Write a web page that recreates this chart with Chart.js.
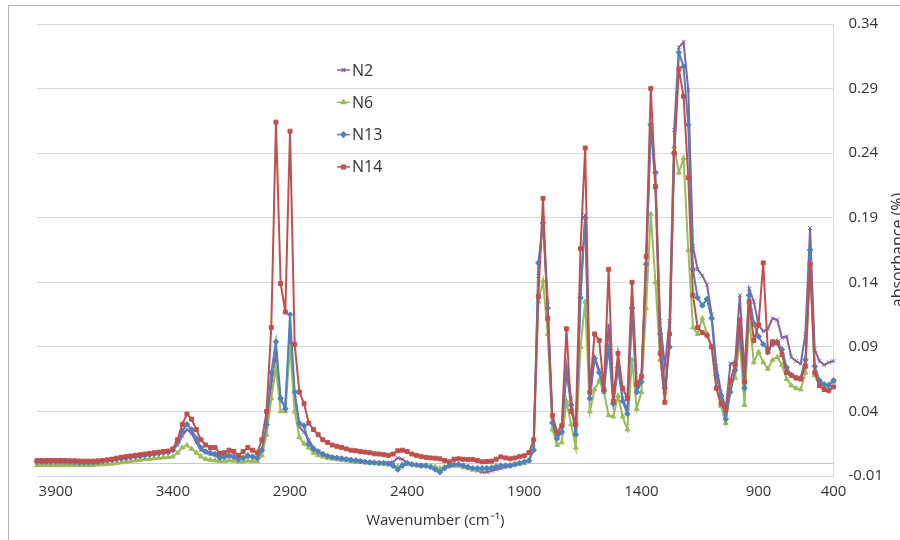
<!DOCTYPE html>
<html>
<head>
<meta charset="utf-8">
<script src="https://cdn.jsdelivr.net/npm/chart.js@4.4.1/dist/chart.umd.min.js"></script>
<style>
  html, body { margin: 0; padding: 0; background: #fff; }
  .wrap { position: relative; width: 900px; height: 540px; overflow: hidden; }
  .frame { position: absolute; left: 8px; top: 5px; width: 1000px; height: 1000px;
           border-left: 1px solid #b4b4b4; border-top: 1px solid #b4b4b4; }
  .chart-box { position: absolute; left: 0; top: 0; width: 900px; height: 540px; }
</style>
</head>
<body>
<div class="wrap">
  <div class="frame"></div>
  <div class="chart-box"><canvas class="chart"></canvas></div>
</div>
<script>
// wavenumber categories (evenly spaced on the axis, like the original sheet)
const wavenumbers = [
  3980,3960,3940,3920,3900,3880,3860,3840,3820,3800,
  3780,3760,3740,3720,3700,3680,3660,3640,3620,3600,
  3580,3560,3540,3520,3500,3480,3460,3440,3420,3400,
  3380,3360,3340,3320,3300,3280,3260,3240,3220,3200,
  3180,3160,3140,3120,3100,3080,3060,3040,3020,3000,
  2980,2960,2940,2920,2900,2880,2860,2840,2820,2800,
  2780,2760,2740,2720,2700,2680,2660,2640,2620,2600,
  2580,2560,2540,2520,2500,2480,2460,2440,2420,2400,
  2380,2360,2340,2320,2300,2280,2260,2240,2220,2200,
  2180,2160,2140,2120,2100,2080,2060,2040,2020,2000,
  1980,1960,1940,1920,1900,1880,1860,1840,1820,1800,
  1780,1760,1740,1720,1700,1680,1660,1640,1620,1600,
  1580,1560,1540,1520,1500,1480,1460,1440,1420,1400,
  1380,1360,1340,1320,1300,1280,1260,1240,1220,1200,
  1180,1160,1140,1120,1100,1080,1060,1040,1020,1000,
  980,960,940,920,900,
  869,838,806,775,744,713,681,650,619,588,556,525,494,463,431,400
];
const tickLabels = [3900, 3400, 2900, 2400, 1900, 1400, 900, 400];

const n2 = [
  0.001,0.001,0.001,0.001,0.001,0.001,0.001,0.001,0.0008,0.0006,
  0.0006,0.0006,0.0007,0.001,0.0018,0.0025,0.003,0.0035,0.004,0.0045,
  0.005,0.0055,0.006,0.0065,0.007,0.0075,0.008,0.0085,0.009,0.0105,
  0.014,0.021,0.026,0.023,0.016,0.010,0.008,0.007,0.006,0.004,
  0.0045,0.005,0.0045,0.003,0.004,0.005,0.0045,0.004,0.010,0.028,
  0.060,0.085,0.048,0.045,0.102,0.050,0.028,0.024,0.018,0.012,
  0.009,0.007,0.0055,0.0045,0.004,0.0035,0.003,0.0025,0.002,0.0015,
  0.001,0.0005,0.0003,0.0,0.0,0.0,0.001,0.004,0.003,0.0,
  -0.001,-0.0015,-0.002,-0.002,-0.003,-0.004,-0.005,-0.003,-0.002,-0.002,
  -0.002,-0.003,-0.004,-0.005,-0.006,-0.007,-0.007,-0.006,-0.005,-0.004,
  -0.003,-0.002,-0.001,-0.0005,0.0,0.002,0.012,0.145,0.190,0.125,
  0.033,0.020,0.026,0.075,0.050,0.023,0.130,0.192,0.052,0.082,
  0.072,0.058,0.107,0.048,0.075,0.050,0.040,0.120,0.058,0.065,
  0.150,0.262,0.214,0.110,0.075,0.110,0.258,0.322,0.326,0.289,
  0.168,0.150,0.145,0.138,0.115,0.075,0.055,0.042,0.077,0.078,
  0.130,0.070,0.135,0.125,0.107,0.102,0.104,0.112,0.111,0.097,
  0.098,0.082,0.079,0.077,0.100,0.182,0.088,0.079,0.076,0.078,
  0.079
];
const n6 = [
  -0.0015,-0.0015,-0.0015,-0.0015,-0.0015,-0.0015,-0.0015,-0.0015,-0.0015,-0.0015,
  -0.0015,-0.0015,-0.0015,-0.0012,-0.001,-0.0008,-0.0005,0.0,0.0005,0.001,
  0.0015,0.002,0.0025,0.003,0.0033,0.0036,0.004,0.0043,0.0046,0.005,
  0.008,0.012,0.0137,0.011,0.008,0.005,0.003,0.0025,0.002,0.0015,
  0.0015,0.002,0.0018,0.001,0.0012,0.0018,0.0015,0.0015,0.006,0.022,
  0.050,0.074,0.040,0.040,0.090,0.040,0.020,0.015,0.012,0.008,
  0.006,0.005,0.004,0.0035,0.003,0.0025,0.002,0.0015,0.001,0.0008,
  0.0005,0.0003,0.0,-0.0003,-0.0005,-0.001,-0.002,-0.003,-0.001,-0.0005,
  -0.001,-0.0015,-0.002,-0.002,-0.0025,-0.003,-0.004,-0.003,-0.002,-0.002,
  -0.002,-0.003,-0.004,-0.005,-0.005,-0.005,-0.004,-0.003,-0.002,-0.002,
  -0.002,-0.0015,-0.001,-0.0005,0.0,0.002,0.011,0.125,0.141,0.100,
  0.026,0.014,0.016,0.048,0.030,0.012,0.090,0.125,0.040,0.057,
  0.064,0.055,0.037,0.036,0.052,0.036,0.026,0.080,0.042,0.055,
  0.120,0.193,0.140,0.080,0.055,0.090,0.245,0.225,0.236,0.165,
  0.105,0.100,0.112,0.100,0.090,0.058,0.044,0.031,0.060,0.066,
  0.095,0.045,0.112,0.078,0.086,0.078,0.073,0.080,0.082,0.076,
  0.065,0.060,0.058,0.057,0.070,0.155,0.068,0.060,0.060,0.061,
  0.063
];
const n13 = [
  0.001,0.001,0.001,0.001,0.001,0.001,0.001,0.001,0.0008,0.0005,
  0.0005,0.0005,0.0005,0.0008,0.0015,0.002,0.0025,0.003,0.0035,0.004,
  0.0045,0.005,0.0055,0.006,0.0065,0.007,0.0075,0.008,0.0085,0.010,
  0.016,0.025,0.030,0.026,0.019,0.012,0.009,0.008,0.007,0.004,
  0.005,0.006,0.005,0.003,0.004,0.006,0.005,0.004,0.010,0.030,
  0.070,0.094,0.050,0.042,0.115,0.055,0.031,0.029,0.015,0.011,
  0.009,0.007,0.0055,0.0045,0.004,0.0035,0.003,0.0025,0.002,0.0015,
  0.001,0.0005,0.0003,0.0,0.0,-0.0005,-0.002,-0.005,-0.002,0.0,
  -0.001,-0.0015,-0.002,-0.002,-0.003,-0.005,-0.007,-0.004,-0.002,-0.001,
  -0.001,-0.002,-0.003,-0.004,-0.004,-0.004,-0.004,-0.004,-0.003,-0.002,
  -0.002,-0.002,-0.001,0.0,0.001,0.002,0.010,0.155,0.186,0.120,
  0.031,0.019,0.024,0.070,0.045,0.022,0.128,0.190,0.050,0.081,
  0.070,0.056,0.090,0.046,0.074,0.048,0.038,0.120,0.055,0.063,
  0.154,0.262,0.225,0.100,0.058,0.090,0.240,0.318,0.307,0.262,
  0.150,0.128,0.122,0.127,0.112,0.068,0.052,0.034,0.055,0.072,
  0.103,0.058,0.130,0.108,0.098,0.092,0.088,0.092,0.094,0.088,
  0.074,0.068,0.066,0.066,0.080,0.165,0.075,0.064,0.061,0.060,
  0.064
];
const n14 = [
  0.002,0.002,0.002,0.002,0.002,0.002,0.002,0.0018,0.0018,0.0016,
  0.0015,0.0015,0.0015,0.0017,0.002,0.0025,0.003,0.0038,0.0045,0.005,
  0.0055,0.006,0.0065,0.007,0.0075,0.008,0.0085,0.009,0.0093,0.011,
  0.018,0.030,0.038,0.034,0.026,0.018,0.014,0.012,0.012,0.0075,
  0.008,0.010,0.009,0.006,0.009,0.012,0.010,0.008,0.018,0.040,
  0.105,0.264,0.139,0.117,0.257,0.092,0.055,0.046,0.031,0.026,
  0.022,0.018,0.016,0.014,0.013,0.012,0.011,0.010,0.0095,0.009,
  0.0085,0.008,0.0072,0.007,0.0065,0.006,0.007,0.0095,0.010,0.009,
  0.007,0.006,0.005,0.0045,0.004,0.0038,0.0033,0.002,0.001,0.003,
  0.0033,0.003,0.0028,0.0028,0.002,0.001,0.0012,0.0015,0.003,0.0048,
  0.004,0.0033,0.004,0.005,0.0056,0.008,0.018,0.129,0.205,0.112,
  0.037,0.024,0.029,0.104,0.040,0.030,0.166,0.244,0.055,0.100,
  0.095,0.057,0.150,0.048,0.085,0.058,0.050,0.140,0.061,0.067,
  0.160,0.290,0.214,0.085,0.047,0.100,0.240,0.305,0.284,0.221,
  0.130,0.105,0.101,0.099,0.090,0.058,0.046,0.041,0.064,0.076,
  0.111,0.063,0.125,0.095,0.107,0.155,0.086,0.094,0.093,0.084,
  0.070,0.068,0.066,0.065,0.075,0.154,0.070,0.060,0.057,0.056,
  0.059
];

const textColor = '#333333';
const fontFamily = '"Open Sans", "Liberation Sans", sans-serif';

// line at absorbance = 0, like the horizontal axis in the sheet
const zeroLine = {
  id: 'zeroLine',
  beforeDatasetsDraw(chart) {
    const y = chart.scales.y.getPixelForValue(0);
    const a = chart.chartArea;
    const ctx = chart.ctx;
    ctx.save();
    ctx.strokeStyle = '#c8c8c8';
    ctx.lineWidth = 1;
    ctx.beginPath();
    ctx.moveTo(a.left, Math.round(y) + 0.5);
    ctx.lineTo(a.right, Math.round(y) + 0.5);
    ctx.stroke();
    ctx.restore();
  }
};

// legend inside the plot + rotated y title on the right (cut by the edge)
const extras = {
  id: 'extras',
  afterDraw(chart) {
    const ctx = chart.ctx;
    const a = chart.chartArea;
    ctx.save();
    chart.data.datasets.forEach((ds, i) => {
      const y = 70 + i * 32.3;
      ctx.strokeStyle = ds.borderColor;
      ctx.fillStyle = ds.borderColor;
      ctx.lineWidth = 1.5;
      ctx.beginPath();
      ctx.moveTo(337, y);
      ctx.lineTo(350, y);
      ctx.stroke();
      Chart.helpers.drawPoint(ctx, {
        pointStyle: ds.pointStyle, radius: 2.5, borderWidth: 1, rotation: 0
      }, 343.5, y);
      ctx.fillStyle = textColor;
      ctx.font = '16px ' + fontFamily;
      ctx.textAlign = 'left';
      ctx.textBaseline = 'middle';
      ctx.fillText(ds.label, 352, y + 1);
    });
    ctx.translate(903, (a.top + a.bottom) / 2);
    ctx.rotate(-Math.PI / 2);
    ctx.font = '16px ' + fontFamily;
    ctx.fillStyle = textColor;
    ctx.textAlign = 'center';
    ctx.textBaseline = 'alphabetic';
    ctx.fillText('absorbance (%)', 0, 0);
    ctx.restore();
  }
};

function series(label, values, color, style, order) {
  return {
    label: label,
    data: values,
    borderColor: color,
    backgroundColor: color,
    borderWidth: 2,
    pointStyle: style,
    pointRadius: 2.8,
    pointBorderWidth: 1,
    pointHoverRadius: 2.8,
    tension: 0,
    order: order
  };
}

const config = {
  type: 'line',
  data: {
    labels: wavenumbers,
    datasets: [
      series('N2', n2, '#8064A2', 'crossRot', 4),
      series('N6', n6, '#9BBB59', 'triangle', 3),
      series('N13', n13, '#4F81BD', 'rectRot', 2),
      series('N14', n14, '#C0504D', 'rect', 1)
    ]
  },
  options: {
    responsive: true,
    maintainAspectRatio: false,
    animation: false,
    events: [],
    layout: { padding: { left: 37, right: 2, top: 19, bottom: 10 } },
    plugins: {
      legend: { display: false },
      tooltip: { enabled: false }
    },
    scales: {
      x: {
        type: 'category',
        grid: { display: false, drawTicks: false },
        border: { display: false },
        ticks: {
          autoSkip: false,
          maxRotation: 0,
          minRotation: 0,
          padding: 7,
          color: textColor,
          font: { family: fontFamily, size: 15 },
          callback: function (val) {
            const lab = this.getLabelForValue(val);
            return tickLabels.includes(Number(lab)) ? String(lab) : null;
          }
        },
        title: {
          display: true,
          text: 'Wavenumber (cm\u207B\u00B9)',
          color: textColor,
          font: { family: fontFamily, size: 15 },
          padding: { top: 4, bottom: 0 }
        }
      },
      y: {
        position: 'right',
        min: -0.01,
        max: 0.34,
        grid: { color: '#d9d9d9', drawTicks: false },
        border: { display: true, color: '#d9d9d9' },
        ticks: {
          stepSize: 0.05,
          padding: 15,
          color: textColor,
          font: { family: fontFamily, size: 15 },
          callback: v => v.toFixed(2)
        }
      }
    }
  },
  plugins: [zeroLine, extras]
};

const myChart = new Chart(document.querySelector('.chart'), config);
</script>
</body>
</html>
